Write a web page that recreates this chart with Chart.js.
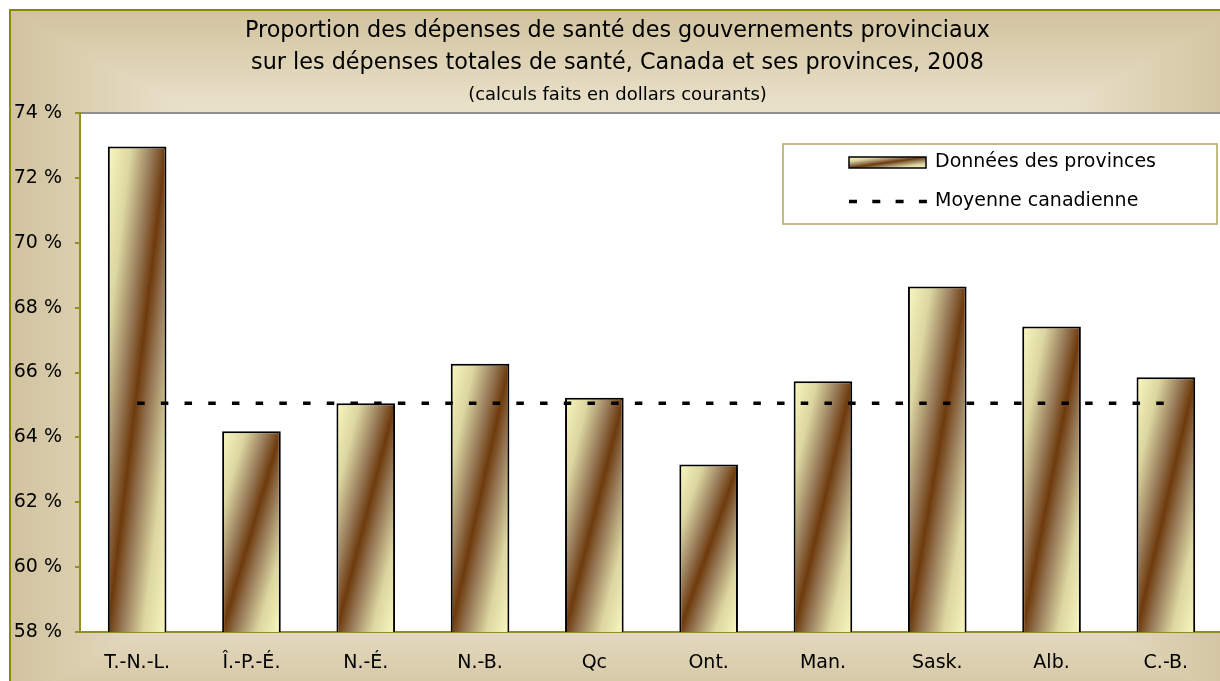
<!DOCTYPE html>
<html>
<head>
<meta charset="utf-8">
<script src="https://cdn.jsdelivr.net/npm/chart.js@4.4.0/dist/chart.umd.min.js"></script>
<style>
  html, body { margin: 0; padding: 0; overflow: hidden; background: #fff; }
  #wrap { width: 1240px; height: 710px; }
</style>
</head>
<body>
<div id="wrap"><canvas id="chart" width="1240" height="710"></canvas></div>
<script>
// donnees
const provinces = ['T.-N.-L.', 'Î.-P.-É.', 'N.-É.', 'N.-B.', 'Qc', 'Ont.', 'Man.', 'Sask.', 'Alb.', 'C.-B.'];
const parts = [72.97, 64.19, 65.05, 66.27, 65.22, 63.16, 65.73, 68.65, 67.42, 65.85];
const moyenne = 65.05;
const yTicks = [58, 60, 62, 64, 66, 68, 70, 72, 74];
const titre = ['Proportion des dépenses de santé des gouvernements provinciaux',
               'sur les dépenses totales de santé, Canada et ses provinces, 2008'];
const sousTitre = '(calculs faits en dollars courants)';
const legende = ['Données des provinces', 'Moyenne canadienne'];

const FONT = '"DejaVu Sans", sans-serif';
const OLIVE = '#8f8f24';
const BAR_PCT = 0.513;

// degrade diagonal des barres (clair -> brun -> clair)
function diagGrad(ctx, left, top, right, bottom) {
  const w = right - left, h = bottom - top;
  const cx = (left + right) / 2, cy = (top + bottom) / 2;
  const k = w * h / (w * w + h * h);
  const g = ctx.createLinearGradient(cx - h * k, cy - w * k, cx + h * k, cy + w * k);
  g.addColorStop(0, '#faf8c0');
  g.addColorStop(0.2, '#dcd6a0');
  g.addColorStop(0.38, '#977a58');
  g.addColorStop(0.5, '#6e3a0c');
  g.addColorStop(0.62, '#977a58');
  g.addColorStop(0.8, '#dcd6a0');
  g.addColorStop(1, '#faf8c0');
  return g;
}

function barFill(c) {
  const chart = c.chart, xs = chart.scales.x, ys = chart.scales.y;
  if (!chart.chartArea || !xs || !ys || c.raw == null) return '#b8a47c';
  const cx = xs.getPixelForValue(c.dataIndex);
  const half = xs.width / provinces.length * BAR_PCT / 2;
  return diagGrad(chart.ctx, cx - half, ys.getPixelForValue(c.raw), cx + half, ys.getPixelForValue(ys.min));
}

// fond du cadre : degrade rectangulaire depuis le centre
function frameFill(ctx, x0, y0, x1, y1) {
  const cx = (x0 + x1) / 2, cy = (y0 + y1) / 2;
  const tris = [
    [[x0, y0], [x1, y0], [cx, y0]],
    [[x0, y1], [x1, y1], [cx, y1]],
    [[x0, y0], [x0, y1], [x0, cy]],
    [[x1, y0], [x1, y1], [x1, cy]]
  ];
  tris.forEach(([a, b, e]) => {
    const g = ctx.createLinearGradient(cx, cy, e[0], e[1]);
    g.addColorStop(0, '#f5efe2');
    g.addColorStop(0.6, '#eee7d3');
    g.addColorStop(0.75, '#e7dec6');
    g.addColorStop(0.88, '#dccfb0');
    g.addColorStop(1, '#d1c39f');
    ctx.beginPath();
    ctx.moveTo(cx, cy);
    ctx.lineTo(a[0], a[1]);
    ctx.lineTo(b[0], b[1]);
    ctx.closePath();
    ctx.fillStyle = g;
    ctx.strokeStyle = g;
    ctx.lineWidth = 1;
    ctx.fill();
    ctx.stroke();
  });
}

const decor = {
  id: 'decor',
  beforeDraw(chart) {
    const ctx = chart.ctx, a = chart.chartArea;
    ctx.save();
    frameFill(ctx, 10, 10, 1238, 706);
    ctx.strokeStyle = '#8a8a00';
    ctx.lineWidth = 2;
    ctx.strokeRect(10, 10, 1228, 696);
    ctx.fillStyle = '#fff';
    ctx.fillRect(a.left, a.top, a.right - a.left + 20, a.bottom - a.top);
    ctx.fillStyle = '#8e8e8e';
    ctx.fillRect(a.left, a.top - 1, a.right - a.left + 20, 2);
    ctx.restore();
  },
  afterDraw(chart) {
    const ctx = chart.ctx;
    ctx.save();
    // cadre de la legende
    ctx.fillStyle = '#fff';
    ctx.fillRect(783, 144, 434, 80);
    ctx.strokeStyle = '#aca65c';
    ctx.lineWidth = 1.5;
    ctx.strokeRect(783, 144, 434, 80);
    // barres
    ctx.fillStyle = diagGrad(ctx, 849, 157, 926, 168);
    ctx.fillRect(849, 157, 77, 11);
    ctx.strokeStyle = '#000';
    ctx.lineWidth = 1.5;
    ctx.strokeRect(849, 157, 77, 11);
    // moyenne
    ctx.beginPath();
    ctx.setLineDash([8, 15.3]);
    ctx.lineWidth = 3.5;
    ctx.moveTo(849, 201.5);
    ctx.lineTo(927, 201.5);
    ctx.stroke();
    ctx.setLineDash([]);
    ctx.fillStyle = '#000';
    ctx.font = '19px ' + FONT;
    ctx.textBaseline = 'middle';
    ctx.textAlign = 'left';
    ctx.fillText(chart.data.datasets[0].label, 935, 162);
    ctx.fillText(chart.data.datasets[1].label, 935, 201);
    ctx.restore();
  }
};

const chart = new Chart(document.getElementById('chart'), {
  type: 'bar',
  data: {
    labels: provinces,
    datasets: [
      {
        type: 'bar',
        label: legende[0],
        data: parts,
        backgroundColor: barFill,
        borderColor: '#000',
        borderWidth: 2,
        barPercentage: BAR_PCT,
        categoryPercentage: 1,
        order: 1
      },
      {
        type: 'line',
        label: legende[1],
        data: provinces.map(() => moyenne),
        borderColor: '#000',
        borderWidth: 3.5,
        borderDash: [7.5, 16.2],
        pointRadius: 0,
        fill: false,
        order: 0
      }
    ]
  },
  options: {
    responsive: false,
    animation: false,
    devicePixelRatio: 1,
    layout: { padding: { top: 10, left: 12, right: 17, bottom: 0 } },
    plugins: {
      legend: { display: false },
      tooltip: { enabled: false },
      title: {
        display: true,
        text: titre,
        color: '#000',
        font: { family: FONT, size: 22.3, weight: 'normal', lineHeight: 32 / 22.3 },
        padding: { top: 5, bottom: 0 }
      },
      subtitle: {
        display: true,
        text: sousTitre,
        color: '#000',
        font: { family: FONT, size: 18, weight: 'normal', lineHeight: 1.2 },
        padding: { top: 6, bottom: 6.4 }
      }
    },
    scales: {
      x: {
        offset: true,
        afterFit: s => { s.height = 78; },
        grid: { drawOnChartArea: false, drawTicks: false },
        border: { display: true, color: OLIVE, width: 2 },
        ticks: {
          padding: 20, color: '#000', autoSkip: false, maxRotation: 0,
          font: { family: FONT, size: 19 }
        }
      },
      y: {
        min: 58,
        max: 74,
        afterBuildTicks: s => { s.ticks = yTicks.map(v => ({ value: v })); },
        afterFit: s => { s.width = 68; },
        grid: { drawOnChartArea: false, drawTicks: true, tickLength: 5, color: OLIVE, lineWidth: 2 },
        border: { display: true, color: OLIVE, width: 2 },
        ticks: {
          padding: 13, color: '#000',
          font: { family: FONT, size: 19 },
          callback: v => v + ' %'
        }
      }
    }
  },
  plugins: [decor]
});
</script>
</body>
</html>
